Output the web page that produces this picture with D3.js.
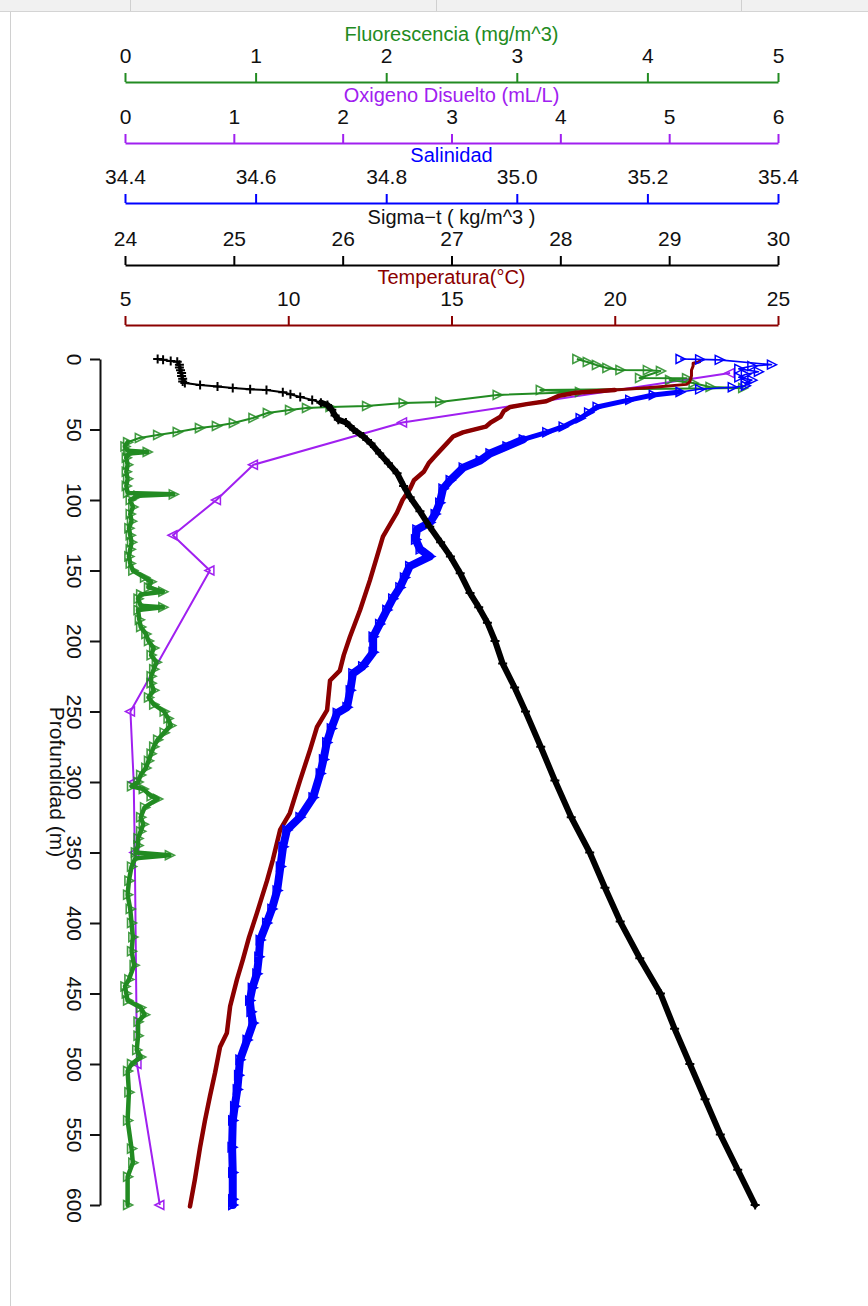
<!DOCTYPE html>
<html><head><meta charset="utf-8">
<script src="https://cdn.jsdelivr.net/npm/d3@7"></script>
<style>
body{margin:0;background:#fff}
svg{display:block}
text{font-family:"Liberation Sans",Arial,Helvetica,sans-serif}
</style>
</head><body>
<svg id="chart" width="868" height="1306"></svg>
<script>
// ---------- DATA ----------
const depthTicks = [0,50,100,150,200,250,300,350,400,450,500,550,600];
const fluorTicks = [0,1,2,3,4,5];
const oxyTicks = [0,1,2,3,4,5,6];
const salTicks = [34.4,34.6,34.8,35.0,35.2,35.4];
const sigmaTicks = [24,25,26,27,28,29,30];
const tempTicks = [5,10,15,20,25];

// [depth (m), value]
const temperatura = [
 [0.5,22.6],[2,22.6],[3,22.4],[5,22.4],[8,22.35],[12,22.35],[16,22.3],[18,22.2],[20,21.2],[22,20.0],
 [24,18.8],[26,18.3],[28,18.1],[30,17.9],[32,17.3],[34,16.8],[37,16.6],[41,16.5],[45,16.2],[48,16.05],
 [52,15.35],[55,15.05],[60,14.85],[65,14.65],[70,14.45],[74,14.3],[80,14.15],[86,13.85],[92,13.73],[100,13.5],
 [109,13.33],[118,13.1],[126,12.9],[140,12.72],[157,12.5],[178,12.2],[197,11.89],[210,11.7],[221,11.58],[228,11.28],
 [249,11.19],[261,10.88],[277,10.67],[299,10.36],[322,10.05],[334,9.75],[355,9.53],[370,9.35],[393,9.04],[410,8.8],
 [426,8.61],[440,8.43],[459,8.22],[478,8.12],[488,7.91],[506,7.76],[523,7.6],[540,7.45],[559,7.3],[582,7.14],[601,6.99]
];
const salinidad = [
 [0,35.25],[0.3,35.28],[0.6,35.31],[4,35.39],[5,35.36],[7,35.34],[9,35.37],[11,35.35],[13,35.34],[15,35.36],
 [17,35.35],[19,35.35],[20,35.33],[21.5,35.28],[23.4,35.25],[25.5,35.209],[29,35.173],[34,35.123],[38,35.11],[42,35.097],
 [48,35.071],[52,35.046],[57,35.01],[62,34.985],[67,34.959],[72,34.944],[77,34.918],[86,34.898],[92,34.887],[102,34.882],
 [110,34.875],[116,34.867],[121,34.847],[128,34.845],[135,34.852],[140,34.867],[147,34.836],[155,34.828],[162,34.821],[170,34.81],
 [178,34.801],[188,34.79],[197,34.78],[208,34.78],[218,34.764],[223,34.749],[235,34.745],[247,34.74],[251,34.725],[262,34.716],
 [272,34.709],[284,34.704],[294,34.699],[311,34.688],[325,34.668],[334,34.648],[346,34.642],[360,34.638],[377,34.633],[390,34.625],
 [400,34.617],[412,34.607],[424,34.605],[436,34.602],[446,34.595],[455,34.591],[463,34.593],[471,34.596],[483,34.587],[497,34.576],
 [508,34.574],[518,34.572],[530,34.568],[540,34.565],[559,34.564],[577,34.565],[596,34.565],[600,34.565]
];
const sigmaT = [
 [0,24.30],[0.5,24.35],[1.5,24.42],[2,24.48],[4,24.5],[6,24.5],[8,24.51],[10,24.52],[12,24.52],[14,24.53],
 [16,24.53],[17,24.55],[18.4,24.69],[19.5,24.85],[20.6,24.99],[21.5,25.15],[22,25.30],[23.5,25.45],[25,25.52],[27,25.61],
 [29,25.72],[31,25.8],[32.6,25.86],[36,25.9],[40,25.93],[43,25.96],[45,26.03],[50,26.1],[55,26.19],[60,26.26],
 [67,26.34],[74,26.42],[81,26.5],[90,26.56],[98,26.62],[108,26.71],[119,26.8],[130,26.9],[140,26.99],[152,27.08],
 [166,27.17],[176,27.25],[187,27.33],[200,27.4],[216,27.47],[233,27.58],[250,27.68],[275,27.82],[299,27.95],[325,28.1],
 [350,28.27],[375,28.41],[399,28.55],[425,28.73],[450,28.92],[475,29.05],[500,29.19],[525,29.33],[550,29.47],[575,29.63],[600,29.79]
];
const fluorescencia = [
 [0,3.46],[2.1,3.54],[4.3,3.61],[6.4,3.69],[7.8,3.79],[7.9,4.0],[8.5,4.10],[13.5,3.94],[13.6,4.30],[14.9,4.17],
 [17,4.35],[19.9,4.48],[20.6,4.73],[22,3.18],[23.4,3.48],[25.5,2.85],[30.5,2.41],[31.2,2.13],[33.3,1.85],[34,1.57],
 [34.8,1.39],[36.2,1.26],[38.3,1.09],[41.8,0.98],[45.4,0.83],[47.5,0.70],[49,0.57],[51.8,0.40],[53.9,0.25],[56,0.11],
 [59,0.02],[62,0.0],[65,0.02],[66,0.17],[67,0.03],[70,0.01],[75,0.02],[80,0.01],[85,0.02],[90,0.01],
 [95,0.02],[96,0.37],[97,0.1],[100,0.04],[105,0.06],[110,0.04],[115,0.05],[120,0.03],[125,0.04],[130,0.05],
 [135,0.04],[140,0.03],[145,0.04],[150,0.06],[155,0.15],[158,0.2],[162,0.18],[165,0.29],[167,0.12],[170,0.1],
 [175,0.12],[176,0.29],[178,0.1],[185,0.11],[190,0.12],[195,0.16],[200,0.18],[205,0.22],[210,0.2],[215,0.24],
 [220,0.22],[225,0.2],[230,0.2],[235,0.22],[240,0.18],[245,0.22],[250,0.3],[255,0.33],[260,0.35],[265,0.3],
 [270,0.25],[275,0.22],[280,0.2],[285,0.18],[290,0.16],[295,0.12],[300,0.1],[303,0.05],[305,0.14],[310,0.2],
 [312,0.25],[318,0.15],[325,0.12],[330,0.14],[335,0.12],[340,0.1],[345,0.1],[350,0.08],[352,0.34],[354,0.08],
 [360,0.05],[370,0.03],[380,0.02],[390,0.04],[400,0.05],[410,0.06],[420,0.05],[430,0.07],[440,0.03],[445,0.0],
 [450,0.01],[455,0.02],[460,0.12],[465,0.15],[470,0.1],[480,0.1],[490,0.09],[495,0.12],[500,0.05],[505,0.02],
 [520,0.03],[540,0.02],[560,0.05],[570,0.06],[580,0.02],[600,0.02]
];
const oxigeno = [
 [10,5.56],[45,2.55],[75,1.18],[100,0.84],[125,0.44],[150,0.78],[250,0.05],[300,0.08],[350,0.09],[500,0.11],[600,0.32]
];

// ---------- LAYOUT ----------
const svg = d3.select("#chart");
const X0 = 125, X1 = 778;
const y = d3.scaleLinear().domain([0,600]).range([359,1205]);

const colors = {fluor:"#228B22", oxy:"#A020F0", sal:"#0000FF", sigma:"#000000", temp:"#8B0000"};

// screenshot frame
svg.append("rect").attr("x",0).attr("y",0).attr("width",868).attr("height",1306).attr("fill","#fff");
svg.append("rect").attr("x",0).attr("y",0).attr("width",868).attr("height",11).attr("fill","#f1f1f1");
svg.append("line").attr("x1",0).attr("x2",868).attr("y1",11.5).attr("y2",11.5).attr("stroke","#d4d4d4");
[130,436,741].forEach(v=>svg.append("line").attr("x1",v+0.5).attr("x2",v+0.5).attr("y1",0).attr("y2",11).attr("stroke","#d0d0d0"));
svg.append("line").attr("x1",10.5).attr("x2",10.5).attr("y1",12).attr("y2",1306).attr("stroke","#d0d0d0");

const axes = [
 {key:"fluor", title:"Fluorescencia (mg/m^3)", domain:[0,5], ticks:fluorTicks, fmt:d3.format("d"), yAxis:82},
 {key:"oxy", title:"Oxigeno Disuelto (mL/L)", domain:[0,6], ticks:oxyTicks, fmt:d3.format("d"), yAxis:143},
 {key:"sal", title:"Salinidad", domain:[34.4,35.4], ticks:salTicks, fmt:d3.format(".1f"), yAxis:203},
 {key:"sigma", title:"Sigma\u2212t ( kg/m^3 )", domain:[24,30], ticks:sigmaTicks, fmt:d3.format("d"), yAxis:265},
 {key:"temp", title:"Temperatura(\u00B0C)", domain:[5,25], ticks:tempTicks, fmt:d3.format("d"), yAxis:325}
];
const xs = {};
axes.forEach(a=>{
  const sc = d3.scaleLinear().domain(a.domain).range([X0,X1]);
  xs[a.key] = sc;
  const g = svg.append("g").attr("transform",`translate(0,${a.yAxis})`)
    .call(d3.axisTop(sc).tickValues(a.ticks).tickFormat(a.fmt).tickSize(9).tickSizeOuter(0).tickPadding(10.5));
  g.select(".domain").attr("stroke",colors[a.key]).attr("stroke-width",2);
  g.selectAll(".tick line").attr("stroke",colors[a.key]).attr("stroke-width",2);
  g.selectAll(".tick text").attr("fill","#111").attr("font-size",21).attr("font-family",'"Liberation Sans",Arial,sans-serif');
  svg.append("text").attr("x",(X0+X1)/2).attr("y",a.yAxis-41).attr("text-anchor","middle")
    .attr("font-size",20).attr("fill",colors[a.key]==="#000000"?"#111":colors[a.key]).text(a.title);
});

// y axis
const gy = svg.append("g").attr("transform","translate(100,0)")
  .call(d3.axisLeft(y).tickValues(depthTicks).tickFormat(d3.format("d")).tickSize(10).tickSizeOuter(0));
gy.select(".domain").attr("stroke","#111").attr("stroke-width",2);
gy.selectAll(".tick line").attr("stroke","#111").attr("stroke-width",2);
gy.selectAll(".tick text").attr("x",null).attr("dy",null).attr("fill","#111")
  .attr("font-size",21).attr("font-family",'"Liberation Sans",Arial,sans-serif')
  .attr("text-anchor","middle").attr("transform","translate(-33,0) rotate(90)");
svg.append("text").attr("transform",`translate(50,${y(300)}) rotate(90)`).attr("text-anchor","middle")
  .attr("font-size",21).attr("fill","#111").text("Profundidad (m)");

// ---------- SERIES ----------
const triR = "M-4,-4.5L5,0L-4,4.5Z";
const triL = "M4,-4.5L-5,0L4,4.5Z";
const plus = "M-4.5,0H4.5M0,-4.5V4.5";

function series(data, key, opts){
  const sc = xs[key];
  const line = d3.line().x(d=>sc(d[1])).y(d=>y(d[0]));
  const g = svg.append("g");
  g.append("path").datum(data).attr("d",line).attr("fill","none").attr("stroke",colors[key])
    .attr("stroke-width",opts.thin).attr("stroke-linejoin","round");
  (opts.bands||[]).forEach(b=>{
    const part = data.filter(d=>d[0] >= b.from && d[0] <= b.to);
    g.append("path").datum(part).attr("d",line).attr("fill","none").attr("stroke",colors[key])
      .attr("stroke-width",b.w).attr("stroke-linejoin","round").attr("stroke-linecap","round");
  });
  if(opts.marker){
    g.selectAll("path.m").data(data).join("path").attr("class","m").attr("d",opts.marker)
      .attr("transform",d=>`translate(${sc(d[1])},${y(d[0])})`)
      .attr("fill","none").attr("stroke",colors[key]).attr("stroke-width",opts.mw||1.5).attr("opacity",opts.mo||1);
  }
}

series(oxigeno,"oxy",{thin:2, marker:triL, mw:1.5});
series(fluorescencia,"fluor",{thin:2, bands:[{from:59,to:600,w:4.5}], marker:triR, mw:1.6, mo:0.85});
series(temperatura,"temp",{thin:3, bands:[{from:22,to:601,w:4.5}]});
series(salinidad,"sal",{thin:1.6, bands:[{from:23,to:60,w:5},{from:57,to:600,w:8}], marker:triR, mw:1.5});
series(sigmaT,"sigma",{thin:2, bands:[{from:30,to:600,w:6}], marker:plus, mw:2});
</script>
</body></html>
